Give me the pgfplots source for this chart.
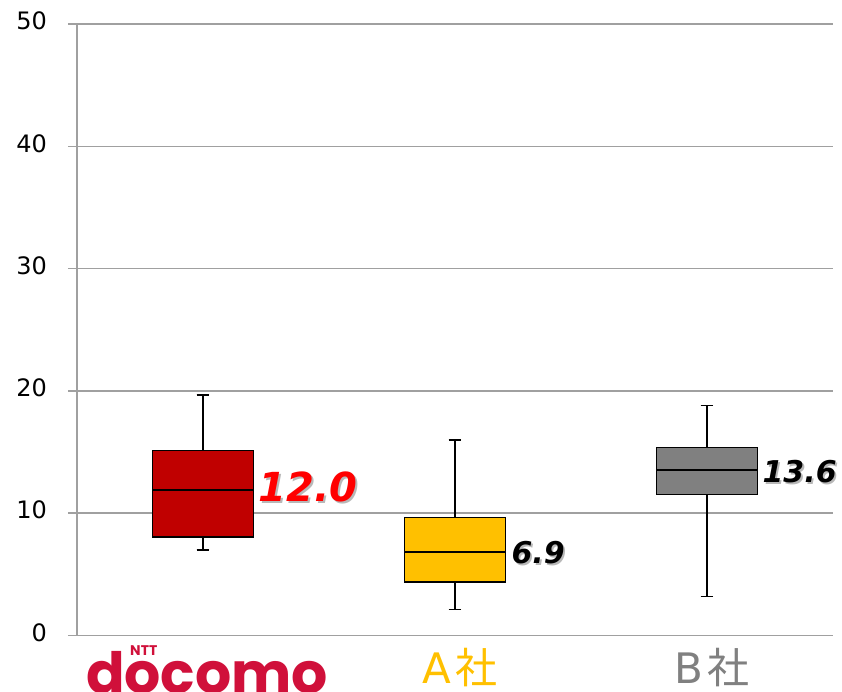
\documentclass[border=0pt]{standalone}
\usepackage{pgfplots}
\pgfplotsset{compat=1.18}
\usepgfplotslibrary{statistics}
\usetikzlibrary{calc}
\usepackage{fontspec}
\setmainfont{DejaVu Sans}
\newfontfamily\cjk{Noto Sans CJK JP}
\newfontfamily\pop{Poppins}
\definecolor{docred}{HTML}{C00000}
\definecolor{aorange}{HTML}{FFC000}
\definecolor{bgray}{HTML}{808080}
\definecolor{logored}{HTML}{D0103A}
\definecolor{gridc}{HTML}{A0A0A0}
\newcommand{\shlabel}[4]{%
  \node[anchor=west, inner sep=0pt, text=black!28, xshift=1.8pt, yshift=-1.8pt] at (#1) {\fontsize{#3}{#3}\selectfont\bfseries\itshape #4};
  \node[anchor=west, inner sep=0pt, text=#2] at (#1) {\fontsize{#3}{#3}\selectfont\bfseries\itshape #4};}
\begin{document}
\begin{tikzpicture}
\path[use as bounding box] (0pt,0pt) rectangle (842pt,692pt);
\begin{axis}[
  at={(77pt,56.5pt)}, anchor=south west,
  scale only axis, width=756pt, height=611.5pt,
  xmin=-0.5, xmax=2.5, ymin=0, ymax=50,
  axis x line=bottom, axis y line=left,
  axis line style={gridc, line width=1.5pt, -},
  xtick=\empty,
  ytick={0,10,20,30,40,50},
  ymajorgrids, grid style={gridc, line width=1.5pt},
  tick align=outside, major tick length=9pt,
  ytick style={gridc, line width=1.5pt},
  yticklabel style={font=\fontsize{24}{24}\selectfont, inner sep=0pt, xshift=-21pt, yshift=3pt},
  /pgf/number format/assume math mode=true,
  clip=false,
  boxplot/draw direction=y,
  boxplot/box extend=0.4,
  boxplot/whisker extend=0.05,
  boxplot/every box/.append style={draw=black, line width=1.7pt},
  boxplot/every whisker/.append style={draw=black, line width=1.4pt},
  boxplot/every median/.append style={draw=black, line width=1.7pt},
]
\addplot[boxplot prepared={draw position=0, lower whisker=7.0, lower quartile=8.06, median=11.91, upper quartile=15.12, upper whisker=19.68}, draw=black, line width=1.6pt, fill=docred] coordinates {};
\addplot[boxplot prepared={draw position=1, lower whisker=2.14, lower quartile=4.40, median=6.83, upper quartile=9.64, upper whisker=16.0}, draw=black, line width=1.6pt, fill=aorange] coordinates {};
\addplot[boxplot prepared={draw position=2, lower whisker=3.21, lower quartile=11.52, median=13.52, upper quartile=15.37, upper whisker=18.8}, draw=black, line width=1.6pt, fill=bgray] coordinates {};
\coordinate (l0) at (axis cs:0.2,12.14);
\coordinate (l1) at (axis cs:1.2,6.8);
\coordinate (l2) at (axis cs:2.2,13.4);
\coordinate (c0) at (axis cs:0.016,0);
\coordinate (n0) at (axis cs:-0.235,0);
\coordinate (c1) at (axis cs:1.02,0);
\coordinate (c2) at (axis cs:2.02,0);
\end{axis}
\shlabel{$(l0)+(5pt,0)$}{red}{40}{12.0}
\shlabel{$(l1)+(6pt,0)$}{black}{30}{6.9}
\shlabel{$(l2)+(5pt,0)$}{black}{30}{13.6}
\node[anchor=base, inner sep=0pt, text=logored] at ([yshift=-58pt]c0) {\resizebox{242pt}{!}{\pop\bfseries docomo}};
\node[anchor=base, inner sep=0pt, text=logored] at ([yshift=-20.5pt]n0) {\fontsize{14}{14}\selectfont\pop\bfseries NTT};
\node[anchor=base, inner sep=0pt, text=aorange] at ([yshift=-48.5pt]c1) {\fontsize{42}{42}\selectfont A\hspace{5pt}{\cjk 社}};
\node[anchor=base, inner sep=0pt, text=bgray] at ([yshift=-48.5pt]c2) {\fontsize{42}{42}\selectfont B\hspace{5pt}{\cjk 社}};
\end{tikzpicture}
\end{document}
